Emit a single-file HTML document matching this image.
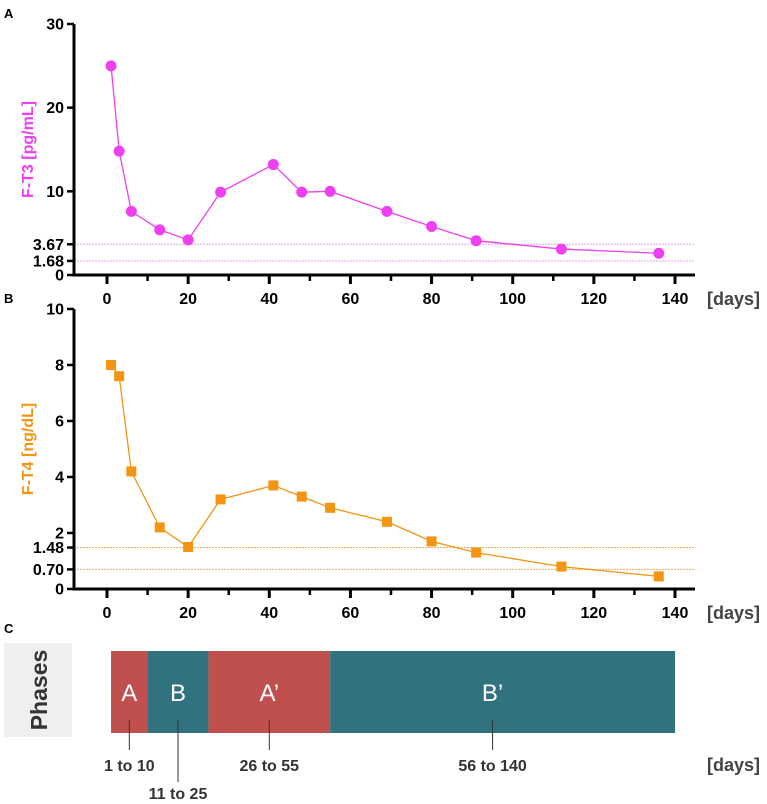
<!DOCTYPE html>
<html><head><meta charset="utf-8"><style>
body{margin:0;background:#fff;}
svg{display:block;font-family:"Liberation Sans",Arial,sans-serif;}
</style></head><body>
<svg width="767" height="804" viewBox="0 0 767 804">
<g id="root"></g>
</svg>
<script>
const days=[1,3,6,13,20,28,41,48,55,69,80,91,112,136];
const ft3=[25,14.8,7.6,5.4,4.2,9.9,13.2,9.9,10,7.6,5.8,4.1,3.1,2.6];
const ft4=[8.0,7.6,4.2,2.2,1.5,3.2,3.7,3.3,2.9,2.4,1.7,1.3,0.8,0.45];
const xTicks=[0,20,40,60,80,100,120,140];
const t3Ticks=[0,1.68,3.67,10,20,30];
const t3Labels=["0","1.68","3.67","10","20","30"];
const t3Refs=[3.67,1.68];
const t4Ticks=[0,0.70,1.48,2,4,6,8,10];
const t4Labels=["0","0.70","1.48","2","4","6","8","10"];
const t4Refs=[1.48,0.70];
const phaseNames=["A","B","A’","B’"];
const phaseStart=[1,10,25,55];
const phaseEnd=[10,25,55,140];
const phaseLabels=["1 to 10","11 to 25","26 to 55","56 to 140"];
const phaseColors=["#c0504d","#31727f","#c0504d","#31727f"];

const NS="http://www.w3.org/2000/svg";
const root=document.getElementById('root');
function mk(tag,attrs,parent,text){const e=document.createElementNS(NS,tag);for(const k in attrs)e.setAttribute(k,attrs[k]);if(text!==undefined)e.textContent=text;(parent||root).appendChild(e);return e;}
const xs=d=>107+d*(675-107)/140;

function panel(letter,top,y0,ymax,vals,ticks,labels,refs,color,refColor,ytitle,marker){
  const ys=v=>y0-(v/ymax)*(y0-top);
  const g=mk('g',{});
  
  
  const pl=mk('text',{x:4,y:top-6,'font-size':13,'font-weight':'bold'},g,letter);
  
  
  refs.forEach(r=>{
    const l=mk('line',{x1:74,y1:ys(r),x2:695,y2:ys(r),stroke:refColor,'stroke-width':1,'stroke-dasharray':'2,1'},g);
    
    
  });
  const ya=mk('line',{x1:74,y1:top,x2:74,y2:y0,stroke:'#000','stroke-width':3},g);
  
  
  const xa=mk('line',{x1:72.5,y1:y0,x2:695,y2:y0,stroke:'#000','stroke-width':3},g);
  
  
  ticks.forEach((t,i)=>{
    const y=ys(t);
    mk('line',{x1:67,y1:y,x2:74,y2:y,stroke:'#000','stroke-width':2.5},g);
    const tl=mk('text',{x:64,y:y+5.5,'font-size':16,'font-weight':'bold','text-anchor':'end'},g,labels[i]);
    
    
  });
  xTicks.forEach(t=>{
    const x=xs(t);
    mk('line',{x1:x,y1:y0,x2:x,y2:y0+9,stroke:'#000','stroke-width':3},g);
    if(t<140) mk('line',{x1:xs(t+10),y1:y0,x2:xs(t+10),y2:y0+6,stroke:'#000','stroke-width':2.5},g);
    const tl=mk('text',{x:x,y:y0+29,'font-size':16,'font-weight':'bold','text-anchor':'middle'},g,String(t));
    
    
  });
  const du=mk('text',{x:707,y:y0+30,'font-size':18,'font-weight':'bold',fill:'#444'},g,'[days]');
  
  
  const yt=mk('text',{transform:`translate(33,${(top+y0)/2}) rotate(-90)`,'font-size':16,'font-weight':'bold',fill:color,'text-anchor':'middle'},g,ytitle);
  
  
  const pts=days.map((d,i)=>xs(d)+','+ys(vals[i])).join(' ');
  const pl2=mk('polyline',{points:pts,fill:'none',stroke:color,'stroke-width':1.3},g);
  
  
  days.forEach((d,i)=>{
    let m;
    if(marker==='circle') m=mk('circle',{cx:xs(d),cy:ys(vals[i]),r:5.5,fill:color},g);
    else m=mk('rect',{x:xs(d)-5,y:ys(vals[i])-5,width:10,height:10,fill:color},g);
    
    
  });
}
panel('A',24,275,30,ft3,t3Ticks,t3Labels,t3Refs,'#ee3ff0','#eaa0ea','F-T3 [pg/mL]','circle');
panel('B',309,589,10,ft4,t4Ticks,t4Labels,t4Refs,'#f39412','#e8b060','F-T4 [ng/dL]','square');

const pc=mk('g',{});


const cl=mk('text',{x:4,y:633,'font-size':13,'font-weight':'bold'},pc,'C');


const pb=mk('rect',{x:4,y:643,width:68,height:94,fill:'#efefef'},pc);


const pt=mk('text',{transform:'translate(47,690) rotate(-90)','font-size':23,'font-weight':'bold',fill:'#333','text-anchor':'middle'},pc,'Phases');


phaseNames.forEach((n,i)=>{
  const x1=xs(phaseStart[i]),x2=xs(phaseEnd[i]);
  const r=mk('rect',{x:x1,y:651,width:x2-x1,height:82,fill:phaseColors[i]},pc);
  
  
  const cx=i===3?(x1+x2)/2-10:(x1+x2)/2;
  const t=mk('text',{x:cx,y:701,'font-size':24,fill:'#fff','text-anchor':'middle'},pc,n);
  
  
  const low=i===1;
  mk('line',{x1:cx,y1:720,x2:cx,y2:low?782:750,stroke:'#333','stroke-width':1},pc);
  const lt=mk('text',{x:cx,y:low?799:771,'font-size':16,'font-weight':'bold',fill:'#333','text-anchor':'middle'},pc,phaseLabels[i]);
  
  
});
const cu=mk('text',{x:707,y:771,'font-size':18,'font-weight':'bold',fill:'#444'},pc,'[days]');


</script>
</body></html>
